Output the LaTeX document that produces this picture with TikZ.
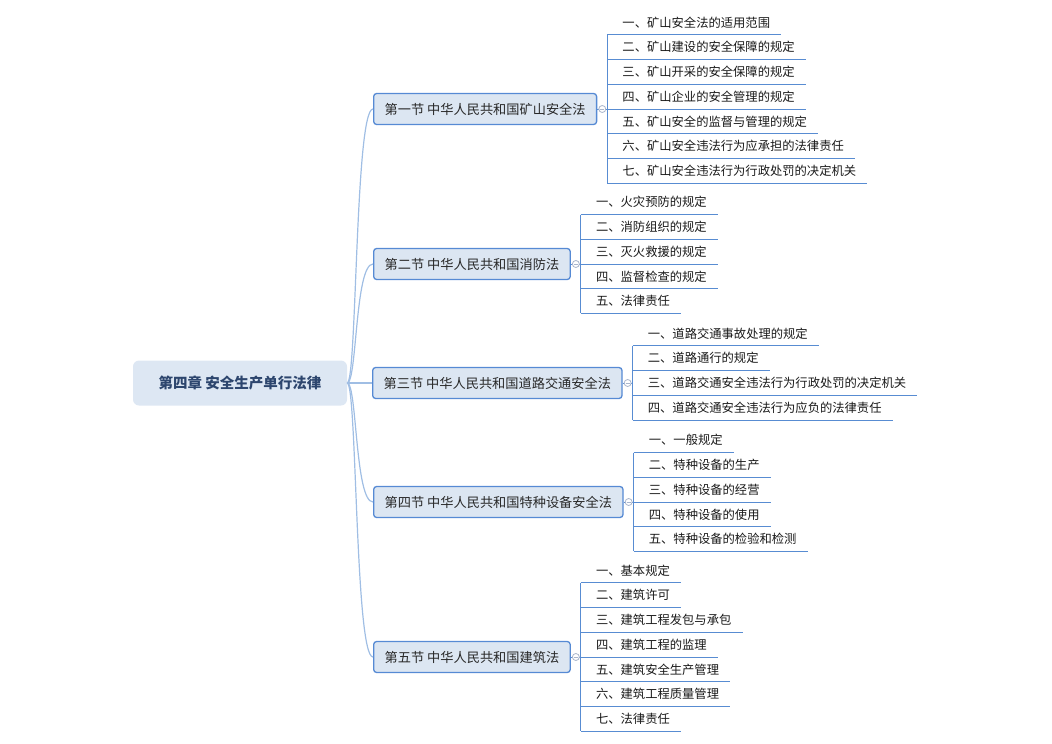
\documentclass[tikz,border=0pt]{standalone}
\usepackage{fontspec}
\setmainfont{Noto Sans CJK SC}
\usetikzlibrary{calc}
\definecolor{linec}{RGB}{88,140,210}
\definecolor{secfill}{RGB}{220,230,242}
\definecolor{secdraw}{RGB}{86,138,212}
\definecolor{rootfill}{RGB}{221,231,243}
\definecolor{roottext}{RGB}{45,70,110}
\definecolor{sectext}{RGB}{40,40,40}
\definecolor{itemtext}{RGB}{25,25,25}
\definecolor{curvecol}{RGB}{160,190,228}
\definecolor{togc}{RGB}{170,182,204}
\begin{document}
\begin{tikzpicture}[x=1pt,y=-1pt,
 secbox/.style={draw=secdraw, fill=secfill, line width=1.3pt, rounded corners=3pt, anchor=west, minimum height=31pt, inner xsep=11pt, font=\fontsize{13.2}{15}\selectfont, text=sectext},
 rootbox/.style={fill=rootfill, rounded corners=6pt, minimum width=214pt, minimum height=45pt, font=\fontsize{14.5}{16}\selectfont\bfseries, text=roottext},
 itembox/.style={anchor=south west, inner xsep=11pt, inner ysep=5pt, text height=9pt, text depth=2.5pt, font=\fontsize{12.3}{14}\selectfont, text=itemtext},
 uline/.style={draw=linec, line width=1pt},
 curveline/.style={draw=curvecol, line width=1.2pt},
 tog/.style={circle, draw=togc, fill=white, line width=0.8pt, minimum size=7pt, inner sep=0pt}
]
\useasboundingbox (0,0) rectangle (1052,744);

\node[rootbox] (root) at (240,383) {第四章 安全生产单行法律};

\node[secbox] (s1) at (373,109) {第一节 中华人民共和国矿山安全法};
\node[secbox] (s2) at (373,264) {第二节 中华人民共和国消防法};
\node[secbox] (s3) at (372,383) {第三节 中华人民共和国道路交通安全法};
\node[secbox] (s4) at (373,502) {第四节 中华人民共和国特种设备安全法};
\node[secbox] (s5) at (373,657) {第五节 中华人民共和国建筑法};

% root to sections
\draw[curveline] (root.east) .. controls (357,383) and (355,109) .. (s1.west);
\draw[curveline] (root.east) .. controls (357,383) and (355,264) .. (s2.west);
\draw[curveline] (root.east) -- (s3.west);
\draw[curveline] (root.east) .. controls (357,383) and (355,502) .. (s4.west);
\draw[curveline] (root.east) .. controls (357,383) and (355,657) .. (s5.west);

% bar positions
\foreach \s in {s1,s2,s3,s4,s5}{
  \coordinate (\s bar) at ($(\s.east)+(10,0)$);
}

% section 1
\foreach \t [count=\i] in {一、矿山安全法的适用范围, 二、矿山建设的安全保障的规定, 三、矿山开采的安全保障的规定, 四、矿山企业的安全管理的规定, 五、矿山安全的监督与管理的规定, 六、矿山安全违法行为应承担的法律责任, 七、矿山安全违法行为行政处罚的决定机关}{
  \node[itembox] (a\i) at ($(s1bar)+(4,{(\i-4)*24.7})$) {\t};
  \draw[uline] (a\i.south -| s1bar) -- (a\i.south east);
}
\draw[uline] (a1.south -| s1bar) -- (a7.south -| s1bar);
\draw[uline] (s1.east) -- (s1bar);

% section 2
\foreach \t [count=\i] in {一、火灾预防的规定, 二、消防组织的规定, 三、灭火救援的规定, 四、监督检查的规定, 五、法律责任}{
  \node[itembox] (b\i) at ($(s2bar)+(4,{(\i-3)*24.7})$) {\t};
  \draw[uline] (b\i.south -| s2bar) -- (b\i.south east);
}
\draw[uline] (b1.south -| s2bar) -- (b5.south -| s2bar);
\draw[uline] (s2.east) -- (s2bar);

% section 3
\foreach \t [count=\i] in {一、道路交通事故处理的规定, 二、道路通行的规定, 三、道路交通安全违法行为行政处罚的决定机关, 四、道路交通安全违法行为应负的法律责任}{
  \node[itembox] (c\i) at ($(s3bar)+(4,{(\i-2.5)*24.7})$) {\t};
  \draw[uline] (c\i.south -| s3bar) -- (c\i.south east);
}
\draw[uline] (c1.south -| s3bar) -- (c4.south -| s3bar);
\draw[uline] (s3.east) -- (s3bar);

% section 4
\foreach \t [count=\i] in {一、一般规定, 二、特种设备的生产, 三、特种设备的经营, 四、特种设备的使用, 五、特种设备的检验和检测}{
  \node[itembox] (d\i) at ($(s4bar)+(4,{(\i-3)*24.7})$) {\t};
  \draw[uline] (d\i.south -| s4bar) -- (d\i.south east);
}
\draw[uline] (d1.south -| s4bar) -- (d5.south -| s4bar);
\draw[uline] (s4.east) -- (s4bar);

% section 5
\foreach \t [count=\i] in {一、基本规定, 二、建筑许可, 三、建筑工程发包与承包, 四、建筑工程的监理, 五、建筑安全生产管理, 六、建筑工程质量管理, 七、法律责任}{
  \node[itembox] (e\i) at ($(s5bar)+(4,{(\i-4)*24.7})$) {\t};
  \draw[uline] (e\i.south -| s5bar) -- (e\i.south east);
}
\draw[uline] (e1.south -| s5bar) -- (e7.south -| s5bar);
\draw[uline] (s5.east) -- (s5bar);

% collapse toggles
\foreach \s in {s1,s2,s3,s4,s5}{
  \node[tog] (tg\s) at ($(\s.east)+(5,0)$) {};
  \draw[togc, line width=0.7pt] ($(tg\s.center)+(-2,0)$) -- ($(tg\s.center)+(2,0)$);
}
\end{tikzpicture}
\end{document}
